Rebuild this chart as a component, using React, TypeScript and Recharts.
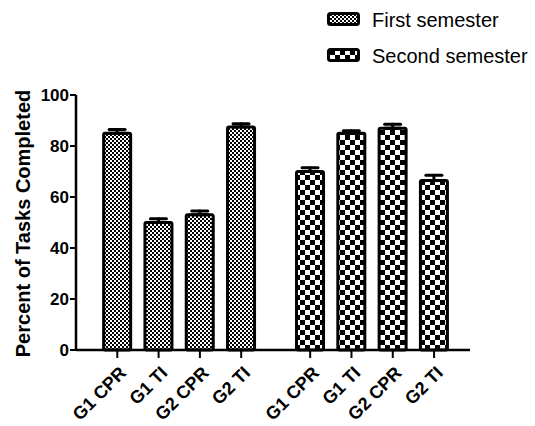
import React from 'react';
import { BarChart, Bar, XAxis, YAxis, ErrorBar, Cell, Legend } from 'recharts';

const categories = ['G1 CPR', 'G1 TI', 'G2 CPR', 'G2 TI'];
const firstSemester = [85, 50, 53, 87.5];
const firstSemesterErr = [1.5, 1.5, 1.5, 1.2];
const secondSemester = [70, 85, 87, 66.5];
const secondSemesterErr = [1.5, 1, 1.5, 2];
const yTicks = [0, 20, 40, 60, 80, 100];
const seriesNames = ['First semester', 'Second semester'];

const GROUP_GAP = 0.67;
const FONT = "'Liberation Sans', Arial, sans-serif";

const rows = [
  ...categories.map((c, i) => ({
    label: c,
    pos: i + 1,
    value: firstSemester[i],
    err: [0, firstSemesterErr[i]],
    series: 0,
  })),
  ...categories.map((c, i) => ({
    label: c,
    pos: categories.length + 1 + GROUP_GAP + i,
    value: secondSemester[i],
    err: [0, secondSemesterErr[i]],
    series: 1,
  })),
];
const xTicks = rows.map((r) => r.pos);
const patterns = ['url(#patFine)', 'url(#patCoarse)'];

const XTick = (props: any) => {
  const { x, y, index } = props;
  const tx = x + 10;
  const ty = y + 14;
  return (
    <text
      x={tx}
      y={ty}
      transform={`rotate(-45, ${tx}, ${ty})`}
      textAnchor="end"
      fontFamily={FONT}
      fontWeight="bold"
      fontSize={18}
      fill="#000"
    >
      {rows[index] ? rows[index].label : ''}
    </text>
  );
};

const YTick = (props: any) => {
  const { x, y, payload } = props;
  return (
    <text
      x={x}
      y={y + 6}
      textAnchor="end"
      fontFamily={FONT}
      fontWeight="bold"
      fontSize={17}
      fill="#000"
    >
      {payload.value}
    </text>
  );
};

const renderLegend = () => (
  <svg width={215} height={75}>
    {seriesNames.map((name, i) => (
      <g key={name}>
        <rect
          x={8.5}
          y={13.5 + i * 36}
          width={30}
          height={11}
          rx={2}
          fill={patterns[i]}
          stroke="#000"
          strokeWidth={3}
        />
        <text x={52} y={27 + i * 36} fontFamily={FONT} fontSize={20} fill="#000">
          {name}
        </text>
      </g>
    ))}
  </svg>
);

export default function App() {
  return (
    <div style={{ position: 'absolute', left: 0, top: 0, width: 535, height: 426, background: '#fff' }}>
      <BarChart
        width={535}
        height={426}
        data={rows}
        margin={{ top: 95, right: 65, bottom: 0, left: 0 }}
      >
        <defs>
          <pattern id="patFine" patternUnits="userSpaceOnUse" width={4} height={4}>
            <rect x={0} y={0} width={4} height={4} fill="#fff" />
            <rect x={0} y={0} width={2} height={2} fill="#000" />
            <rect x={2} y={2} width={2} height={2} fill="#000" />
          </pattern>
          <pattern id="patCoarse" patternUnits="userSpaceOnUse" width={10} height={10}>
            <rect x={0} y={0} width={10} height={10} fill="#fff" />
            <rect x={0} y={0} width={5} height={5} fill="#000" />
            <rect x={5} y={5} width={5} height={5} fill="#000" />
          </pattern>
        </defs>
        <XAxis
          dataKey="pos"
          type="number"
          domain={[0, 9.54]}
          ticks={xTicks}
          interval={0}
          height={76}
          axisLine={{ stroke: '#000', strokeWidth: 2.5 }}
          tickLine={{ stroke: '#000', strokeWidth: 2 }}
          tickSize={8}
          tick={<XTick />}
          allowDataOverflow
        />
        <YAxis
          type="number"
          domain={[0, 100]}
          ticks={yTicks}
          interval={0}
          width={76}
          axisLine={{ stroke: '#000', strokeWidth: 2.5 }}
          tickLine={{ stroke: '#000', strokeWidth: 2 }}
          tickSize={6}
          tickMargin={1}
          tick={<YTick />}
          label={{
            content: () => (
              <text
                x={30}
                y={223.5}
                transform="rotate(-90, 30, 223.5)"
                textAnchor="middle"
                fontFamily={FONT}
                fontWeight="bold"
                fontSize={20}
                fill="#000"
              >
                Percent of Tasks Completed
              </text>
            ),
          }}
        />
        <Legend
          layout="horizontal"
          verticalAlign="middle"
          align="center"
          content={renderLegend}
          wrapperStyle={{ position: 'absolute', left: 320, top: 0, width: 215, height: 75 }}
        />
        <Bar
          dataKey="value"
          barSize={27}
          stroke="#000"
          strokeWidth={3}
          radius={1.5}
          isAnimationActive={false}
        >
          {rows.map((r, i) => (
            <Cell key={i} fill={patterns[r.series]} />
          ))}
          <ErrorBar
            dataKey="err"
            direction="y"
            width={8}
            stroke="#000"
            strokeWidth={3}
            strokeLinecap="round"
            isAnimationActive={false}
          />
        </Bar>
      </BarChart>
    </div>
  );
}
